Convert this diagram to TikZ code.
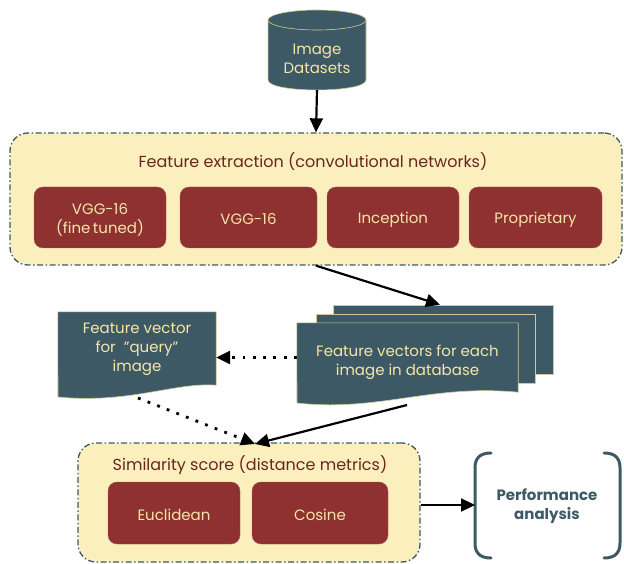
\documentclass[tikz,border=0pt]{standalone}
\usepackage{fontspec}
\setmainfont{Poppins}
\usetikzlibrary{arrows.meta,calc}
\definecolor{slate}{HTML}{3D5965}
\definecolor{cream}{HTML}{F5E6A6}
\definecolor{paleyel}{HTML}{FBF0BD}
\definecolor{brick}{HTML}{8E3130}
\definecolor{titlered}{HTML}{6A2424}
\tikzset{
  groupbox/.style={draw=slate, fill=paleyel, line width=1.3pt, rounded corners=18pt,
    dash pattern=on 6pt off 2.5pt on 1.5pt off 2.5pt},
  redbox/.style={fill=brick, draw=brick!80!white, rounded corners=9pt, text=cream,
    align=center, font=\fontsize{15}{19}\selectfont, inner sep=0pt},
  redlabel/.style={text=cream, align=center, font=\fontsize{15}{19}\selectfont, inner sep=0pt, yshift=-2pt},
  doctext/.style={text=cream, align=center, font=\fontsize{15}{19}\selectfont, inner sep=0pt, yshift=-1.5pt},
  docfill/.style={fill=slate, draw=cream!80!slate, line width=0.6pt},
  titletext/.style={text=titlered, font=\fontsize{16}{19}\selectfont, inner sep=0pt, yshift=-2pt},
  arr/.style={line width=2.2pt, -{Triangle[length=14pt,width=13pt]}},
  dotarr/.style={line width=2.8pt, dash pattern=on 2.8pt off 7.5pt, -{Triangle[length=14pt,width=13pt]}},
  bracket/.style={draw=slate, line width=3pt, line cap=round},
}
\begin{document}
\begin{tikzpicture}[x=1pt,y=-1pt]
\useasboundingbox (0,0) rectangle (624,564);
% cylinder
\path[docfill] (268,20) -- (268,80) .. controls (268,93.3) and (366,93.3) .. (366,80) -- (366,20) -- cycle;
\path[docfill] (317,20) ellipse [x radius=49, y radius=10];
\node[doctext] (cyl) at (317,57) {Image\\Datasets};
\coordinate (cylbot) at (317,90);

% feature extraction group
\node[groupbox, minimum width=612pt, minimum height=132pt] (fe) at (316,199) {};
\node[titletext] (fetitle) at (313,160) {Feature extraction (convolutional networks)};
\node[redbox, minimum width=132pt, minimum height=61pt] (vggft) at (100,217.5) {};
\node[redbox, minimum width=137pt, minimum height=61pt] (vgg) at (248.5,217.5) {};
\node[redbox, minimum width=132pt, minimum height=61pt] (incep) at (393,217.5) {};
\node[redbox, minimum width=133pt, minimum height=61pt] (prop) at (535.5,217.5) {};
\node[redlabel] (vggftl) at (vggft) {VGG-16\\(fine\,tuned)};
\node[redlabel] (vggl) at (vgg) {VGG-16};
\node[redlabel] (incepl) at (incep) {Inception};
\node[redlabel] (propl) at (prop) {Proprietary};

\draw[arr] (cylbot) -- (fe.north);

% stacked documents
\node[docfill, minimum width=220pt, minimum height=69pt, inner sep=0pt] (back) at (443,339.5) {};
\node[docfill, minimum width=219pt, minimum height=69pt, inner sep=0pt] (mid) at (425.5,348.5) {};
\node[inner sep=0pt, minimum width=221pt, minimum height=69pt] (front) at (407.5,357.5) {};
\path[docfill] (front.north west) -- (front.north east) -- (front.south east)
  .. controls (430,384) and (380,412) .. (297,403) -- cycle;
\node[doctext] (fronttext) at (407.5,361) {Feature vectors for each\\image in database};

\draw[arr] (fe.south) -- ($(back.north)+(-3,0)$);

% query document
\node[inner sep=0pt, minimum width=158pt, minimum height=73pt] (query) at (137,348.5) {};
\path[docfill] (query.north west) -- (query.north east) -- (query.south east)
  .. controls (175,382) and (130,404) .. (58,397) -- cycle;
\node[doctext] (querytext) at (137,348) {Feature vector\\for\ \ "query"\\image};

\draw[dotarr] (front.west) -- (front.west -| query.east);

% similarity group
\node[groupbox, minimum width=342pt, minimum height=119pt] (sim) at (249,502.5) {};
\node[titletext] (simtitle) at (250,463) {Similarity score (distance metrics)};
\node[redbox, minimum width=132pt, minimum height=62pt] (eucl) at (174,513) {};
\node[redbox, minimum width=136pt, minimum height=62pt] (cos) at (320,513) {};
\node[redlabel] (eucll) at (eucl) {Euclidean};
\node[redlabel] (cosl) at (cos) {Cosine};

\coordinate (qbot) at (138,398);
\coordinate (fbot) at (407,405);
\coordinate (simtop) at (255,444);
\draw[dotarr] (qbot) -- (simtop);
\draw[arr] (fbot) -- (simtop);

% performance analysis
\node[text=slate, align=center, font=\fontsize{15}{19}\selectfont\bfseries, inner sep=0pt, yshift=-1.5pt] (perf) at (547,505) {Performance\\analysis};
\draw[bracket] (491,453) .. controls (480,453) and (475,458) .. (475,468) -- (475,543) .. controls (475,553) and (480,558) .. (491,558);
\draw[bracket] (604,453) .. controls (615,453) and (620,458) .. (620,468) -- (620,543) .. controls (620,553) and (615,558) .. (604,558);
\coordinate (perfin) at (475,505);
\draw[arr] (sim.east |- perfin) -- (perfin);
\end{tikzpicture}
\end{document}
